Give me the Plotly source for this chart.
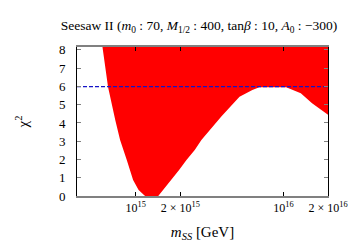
import plotly.graph_objects as go

# Lower boundary of the allowed (red) region: m_SS [GeV] vs chi^2
m_ss_boundary = [5.87e14, 6.49e14, 7.26e14, 7.83e14, 8.69e14, 9.59e14, 1.045e15, 1.156e15,
                 1.419e15, 1.535e15, 1.746e15, 1.963e15, 2.203e15, 2.506e15, 2.78e15,
                 3.162e15, 3.793e15, 4.315e15, 5.035e15, 6.152e15, 6.855e15,
                 1.042e16, 1.309e16, 1.56e16, 1.928e16, 2.0e16]
chi2_boundary = [8.5, 5.97, 4.16, 3.07, 1.97, 0.88, 0.33, 0.0,
                 0.0, 0.33, 0.88, 1.42, 1.97, 2.52, 3.07,
                 3.62, 4.35, 4.85, 5.44, 5.8, 5.95,
                 5.95, 5.63, 5.08, 4.53, 4.45]
chi2_top = 8.5  # region continues above the plotted range

chi2_cl = 5.99  # blue dashed reference line
x_range = [4e14, 2e16]

tick_vals = [1e15, 2e15, 1e16, 2e16]
tick_text = ["10<sup>15</sup>", "2 × 10<sup>15</sup>", "10<sup>16</sup>", "2 × 10<sup>16</sup>"]

poly_x = m_ss_boundary + [m_ss_boundary[-1], m_ss_boundary[0]]
poly_y = chi2_boundary + [chi2_top, chi2_top]

FONT = "Liberation Serif"

fig = go.Figure()
fig.add_trace(go.Scatter(x=poly_x, y=poly_y, mode="lines", fill="toself",
                         fillcolor="#ff0000", line=dict(width=0, color="#ff0000"),
                         hoverinfo="skip", showlegend=False))
fig.add_trace(go.Scatter(x=x_range, y=[chi2_cl, chi2_cl], mode="lines",
                         line=dict(color="#1414c8", width=1.2, dash="4px,2px"),
                         showlegend=False))

fig.update_layout(
    width=354, height=247,
    margin=dict(l=77, r=26, t=47, b=51, autoexpand=False),
    paper_bgcolor="white", plot_bgcolor="white",
    font=dict(family=FONT, size=12, color="black"),
    title=dict(text="Seesaw II (<i>m</i><sub>0</sub> : 70, <i>M</i><sub>1/2</sub> : 400, tan<i>β</i> : 10, <i>A</i><sub>0</sub> : −300)",
               x=199/354, xanchor="center", y=1-25/247, yanchor="middle",
               font=dict(family=FONT, size=13.5)),
    xaxis=dict(type="log", range=[14.60206, 16.30103], automargin=False,
               tickvals=tick_vals, ticktext=tick_text,
               ticks="inside", ticklen=4, tickcolor="black", mirror="ticks",
               showline=True, linecolor="#808080", linewidth=2,
               showgrid=False, zeroline=False,
               title=dict(text="<i>m</i><sub><i>SS</i></sub> [GeV]", standoff=12,
                          font=dict(family=FONT, size=15)),
               tickfont=dict(family=FONT, size=12)),
    yaxis=dict(range=[0, 8.16], dtick=1, tick0=0, automargin=False,
               ticks="inside", ticklen=4, tickcolor="#808080", mirror="ticks",
               ticklabelstandoff=8,
               showline=True, linecolor="black", linewidth=1,
               showgrid=False, zeroline=False,
               title=dict(text="χ<sup>2</sup>", standoff=26,
                          font=dict(family=FONT, size=15)),
               tickfont=dict(family=FONT, size=13)),
)

fig.write_html("out.html", config={"displayModeBar": False},
               post_script="document.body.style.margin='0';document.body.style.overflow='hidden';")
